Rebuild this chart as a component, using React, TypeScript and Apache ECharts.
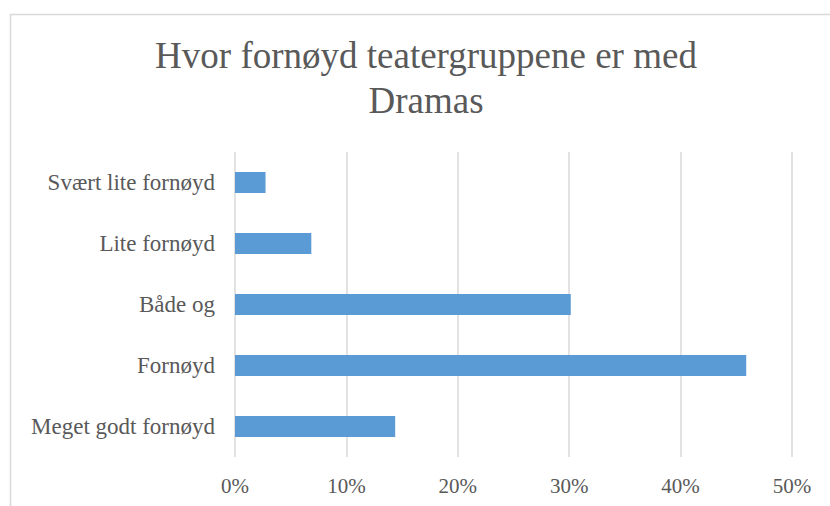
import React, { useEffect, useRef } from "react";
import * as echarts from "echarts";

const categories = ["Svært lite fornøyd", "Lite fornøyd", "Både og", "Fornøyd", "Meget godt fornøyd"];
const values = [2.74, 6.85, 30.14, 45.89, 14.38];
const titleText = "Hvor fornøyd teatergruppene er med\nDramas";

const FONT = "'Liberation Serif', 'DejaVu Serif', serif";
const TEXT = "#595959";

export default function App() {
  const ref = useRef<HTMLDivElement>(null);
  useEffect(() => {
    document.body.style.margin = "0";
    const chart = echarts.init(ref.current!, null, { renderer: "svg" });
    chart.setOption({
      animation: false,
      backgroundColor: "#fff",
      graphic: [
        {
          type: "rect",
          shape: { x: 10.5, y: 14.5, width: 900, height: 600 },
          style: { fill: "#fff", stroke: "#d9d9d9", lineWidth: 1.5 },
          z: -10,
        },
        {
          type: "text",
          x: 426,
          y: 33,
          style: {
            text: titleText,
            fill: TEXT,
            font: `37px ${FONT}`,
            textAlign: "center",
            lineHeight: 45,
          },
        },
      ],
      grid: { left: 235, right: 38, top: 152, bottom: 49, containLabel: false },
      xAxis: {
        type: "value",
        min: 0,
        max: 50,
        interval: 10,
        axisLabel: {
          formatter: "{value}%",
          color: TEXT,
          fontFamily: FONT,
          fontSize: 21,
          margin: 18,
        },
        axisLine: { show: false },
        axisTick: { show: false },
        splitLine: { show: true, lineStyle: { color: "#d9d9d9", width: 1.5 } },
      },
      yAxis: {
        type: "category",
        data: categories,
        inverse: true,
        axisLabel: { color: TEXT, fontFamily: FONT, fontSize: 23, margin: 20 },
        axisLine: { show: false },
        axisTick: { show: false },
      },
      series: [
        {
          type: "bar",
          data: values,
          barWidth: 21,
          itemStyle: { color: "#5B9BD5" },
        },
      ],
    });
    return () => chart.dispose();
  }, []);
  return <div ref={ref} style={{ width: 830, height: 506 }} />;
}
